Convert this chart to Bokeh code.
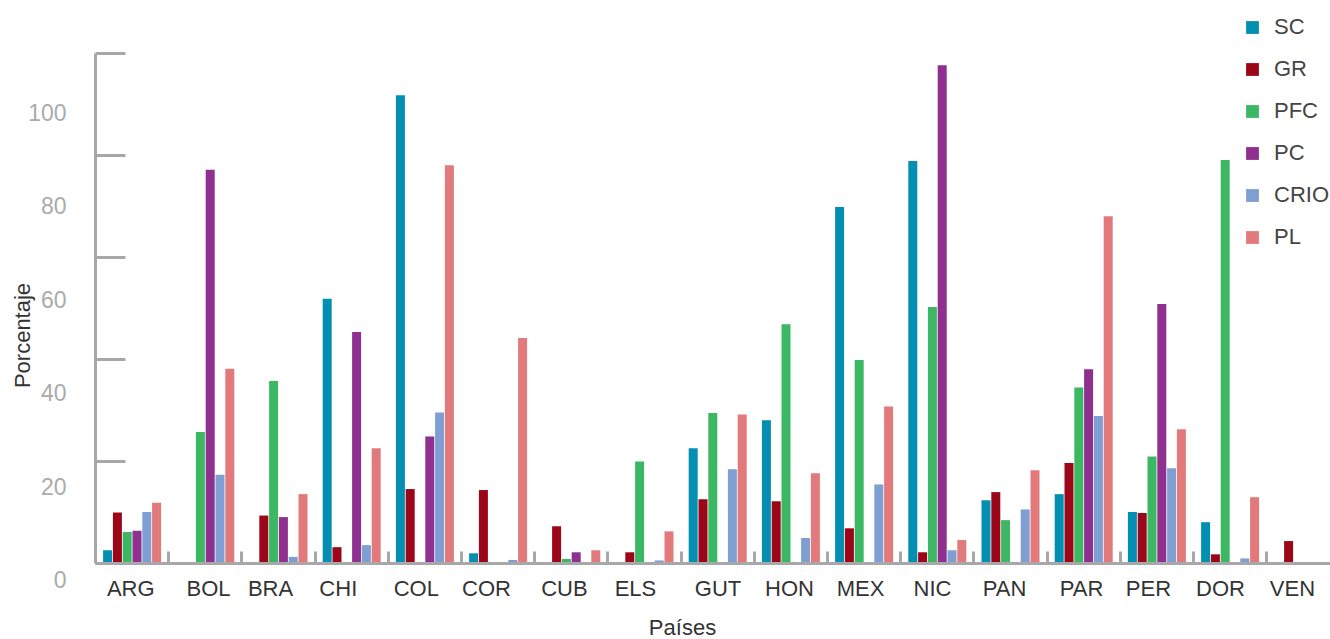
import numpy as np
from bokeh.plotting import figure
from bokeh.models import (ColumnDataSource, Range1d, LinearAxis, FixedTicker,
                          Legend, LegendItem, Label)
from bokeh.transform import dodge
from bokeh.embed import file_html
from bokeh.resources import INLINE

# ---------------- data ----------------
countries = ["ARG", "BOL", "BRA", "CHI", "COL", "COR", "CUB", "ELS", "GUT",
             "HON", "MEX", "NIC", "PAN", "PAR", "PER", "DOR", "VEN"]
series = ["SC", "GR", "PFC", "PC", "CRIO", "PL"]

sc   = [2.6, 0.0, 0.0, 51.9, 91.8, 2.0, 0.3, 0.0, 22.6, 28.1, 69.9, 78.9, 12.4, 13.6, 10.1, 8.1, 0.0]
gr   = [10.0, 0.0, 9.4, 3.2, 14.6, 14.4, 7.3, 2.2, 12.6, 12.2, 6.9, 2.2, 14.0, 19.7, 9.9, 1.8, 4.4]
pfc  = [6.2, 25.8, 35.8, 0.0, 0.0, 0.0, 0.9, 20.0, 29.5, 46.9, 39.9, 50.3, 8.5, 34.5, 21.0, 79.1, 0.0]
pc   = [6.4, 77.2, 9.1, 45.4, 24.9, 0.0, 2.2, 0.0, 0.0, 0.0, 0.0, 97.7, 0.0, 38.1, 50.9, 0.0, 0.0]
crio = [10.1, 17.4, 1.3, 3.6, 29.6, 0.7, 0.3, 0.6, 18.5, 5.0, 15.5, 2.6, 10.6, 28.9, 18.7, 1.0, 0.0]
pl   = [11.9, 38.2, 13.6, 22.6, 78.1, 44.2, 2.6, 6.3, 29.2, 17.7, 30.8, 4.6, 18.3, 68.1, 26.3, 13.0, 0.0]

y_ticks = [0, 20, 40, 60, 80, 100]
# centres of the country labels, in group-slot units (as placed in the original)
label_at = [0.482, 1.544, 2.391, 3.317, 4.383, 5.342, 6.406, 7.376, 8.504,
            9.481, 10.451, 11.434, 12.418, 13.470, 14.385, 15.369, 16.352]

colors = ["#038fb2", "#9b0619", "#3cb763", "#8f2f8f", "#7f9fd3", "#e27a7c"]

# ---------------- layout constants (pixels) ----------------
W, H = 1330, 639
X0, Y0 = 95, 563          # where slot 0 / value 0 sit on the canvas
SLOT_PX = 73.2            # pixels per country slot
Y_PX = 5.1                # pixels per percent (bars / tick marks)
LAB_PX = 4.67             # pixels per percent of the (shifted) tick labels
LAB_Y0 = 579              # canvas row of the "0" tick label

AX = "#a8a8ab"
FONT = "Liberation Sans"

src = ColumnDataSource(dict(pos=[i + 0.5 for i in range(len(countries))],
                            SC=sc, GR=gr, PFC=pfc, PC=pc, CRIO=crio, PL=pl))

x_rng = Range1d(-X0 / SLOT_PX, (W - X0) / SLOT_PX)
y_rng = Range1d(-(H - Y0) / Y_PX, Y0 / Y_PX)

p = figure(width=W, height=H, output_backend="svg", toolbar_location=None,
           x_range=x_rng, y_range=y_rng, min_border=0,
           min_border_left=0, min_border_right=0, min_border_top=0, min_border_bottom=0)
p.outline_line_color = None
p.grid.visible = False
p.background_fill_color = "white"
p.border_fill_color = "white"

# main y axis: line + inward tick marks only (no labels)
ya = p.left[0]
ya.fixed_location = 0
ya.ticker = FixedTicker(ticks=y_ticks)
ya.bounds = (0, 100)
ya.axis_line_color = AX
ya.axis_line_width = 3
ya.major_tick_line_color = AX
ya.major_tick_line_width = 3
ya.major_tick_in = 30
ya.major_tick_out = 0
ya.minor_tick_line_color = None
ya.major_label_text_color = None

# main x axis: baseline + slot separator ticks (no labels)
xa = p.below[0]
xa.fixed_location = 0
xa.ticker = FixedTicker(ticks=list(range(1, len(countries))))
xa.bounds = (0, x_rng.end)
xa.axis_line_color = AX
xa.axis_line_width = 3
xa.major_tick_line_color = AX
xa.major_tick_line_width = 3
xa.major_tick_in = 12
xa.major_tick_out = 0
xa.minor_tick_line_color = None
xa.major_label_text_color = None

# tick-label axis on the left, on its own (shifted) scale
p.extra_y_ranges = {"lab": Range1d(-(H - LAB_Y0) / LAB_PX, LAB_Y0 / LAB_PX)}
yl = LinearAxis(y_range_name="lab", fixed_location=0, ticker=FixedTicker(ticks=y_ticks),
                axis_line_color=None, major_tick_line_color=None,
                minor_tick_line_color=None, major_tick_in=0, major_tick_out=0,
                major_label_standoff=29, major_label_text_font=FONT,
                major_label_text_font_size="23px", major_label_text_color="#ababab")
p.add_layout(yl, "left")

# country-label axis below
xl = LinearAxis(fixed_location=0, ticker=FixedTicker(ticks=label_at),
                major_label_overrides={v: c for v, c in zip(label_at, countries)},
                axis_line_color=None, major_tick_line_color=None,
                minor_tick_line_color=None, major_tick_in=0, major_tick_out=0,
                major_label_standoff=12, major_label_text_font=FONT,
                major_label_text_font_size="22px", major_label_text_color="#333333")
p.add_layout(xl, "below")

# bars
BAR_W = 9 / SLOT_PX
PITCH = 9.8 / SLOT_PX
renderers = []
for j, (name, col) in enumerate(zip(series, colors)):
    r = p.vbar(x=dodge("pos", (j - 2.5) * PITCH), top=name, bottom=0, width=BAR_W,
               source=src, fill_color=col, line_color=None)
    renderers.append(r)

legend = Legend(items=[LegendItem(label=s, renderers=[r]) for s, r in zip(series, renderers)],
                location=(1244, H - 250),
                glyph_width=16, glyph_height=16, label_standoff=14,
                label_height=26, spacing=16, padding=0, margin=0,
                border_line_color=None, background_fill_alpha=0,
                label_text_font=FONT, label_text_font_size="22px",
                label_text_color="#444444")
p.add_layout(legend)

# axis titles
p.add_layout(Label(x=(22 - X0) / SLOT_PX, y=(Y0 - 335) / Y_PX, text="Porcentaje",
                   angle=90, angle_units="deg", text_align="center",
                   text_baseline="middle", text_font=FONT, text_font_size="22px",
                   text_color="#333333"))
p.add_layout(Label(x=(682 - X0) / SLOT_PX, y=(Y0 - 627) / Y_PX, text="Países",
                   text_align="center", text_baseline="middle", text_font=FONT,
                   text_font_size="22px", text_color="#333333"))

open("out.html", "w").write(file_html(p, INLINE))
